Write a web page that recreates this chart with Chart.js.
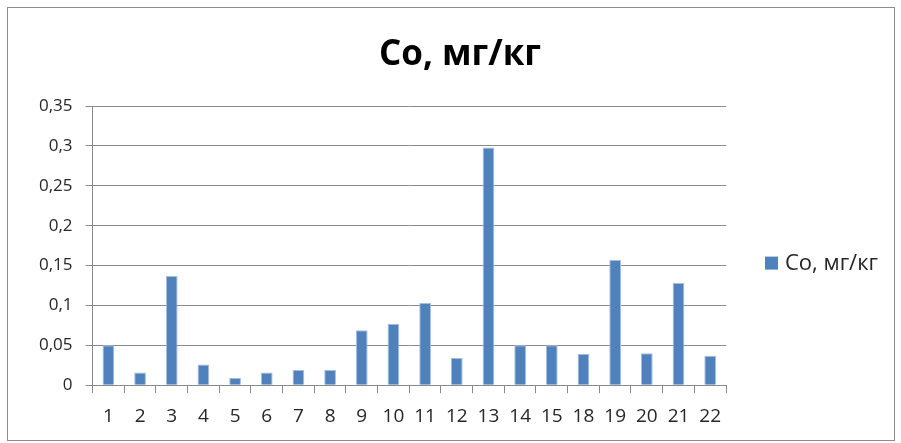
<!DOCTYPE html>
<html>
<head>
<meta charset="utf-8">
<script src="https://cdn.jsdelivr.net/npm/chart.js@4"></script>
<style>
    html, body { margin: 0; padding: 0; background: #fff; }
    #cadre {
        position: absolute; left: 7px; top: 7px;
        width: 886px; height: 432px;
        border: 1px solid #8c8c8c;
    }
</style>
</head>
<body>
<div id="cadre"><canvas id="graphique" width="886" height="432"></canvas></div>
<script>
const categories = ['1', '2', '3', '4', '5', '6', '7', '8', '9', '10',
                    '11', '12', '13', '14', '15', '18', '19', '20', '21', '22'];
const valeursCo  = [0.05, 0.016, 0.137, 0.026, 0.009, 0.016, 0.019, 0.019, 0.069, 0.077,
                    0.103, 0.034, 0.298, 0.05, 0.05, 0.039, 0.157, 0.040, 0.128, 0.037];
const etiquettesY = ['0', '0,05', '0,1', '0,15', '0,2', '0,25', '0,3', '0,35'];

const POLICE = "'Open Sans', 'DejaVu Sans', sans-serif";
const GRIS = '#8a8a8a';
const TEXTE = '#262626';
const BLEU = '#4f81bd';

// Légende à droite, centrée sur la zone du graphique (comme dans Excel)
const legendeDroite = {
    id: 'legendeDroite',
    afterDraw(chart) {
        const { ctx, chartArea } = chart;
        const ds = chart.data.datasets[0];
        const x = chartArea.right + 39;
        const y = (chartArea.top + chartArea.bottom) / 2 + 18;
        ctx.save();
        ctx.fillStyle = ds.backgroundColor;
        ctx.fillRect(x, y - 7, 13, 13);
        ctx.fillStyle = TEXTE;
        ctx.font = `22px ${POLICE}`;
        ctx.textBaseline = 'middle';
        ctx.fillText(ds.label, x + 20, y);
        ctx.restore();
    }
};

new Chart(document.getElementById('graphique'), {
    type: 'bar',
    data: {
        labels: categories,
        datasets: [{
            label: 'Co, мг/кг',
            data: valeursCo,
            backgroundColor: BLEU,
            borderColor: '#a3bddf',
            borderWidth: { top: 1, left: 1, right: 1, bottom: 0 },
            categoryPercentage: 1,
            barPercentage: 0.37,
        }]
    },
    plugins: [legendeDroite],
    options: {
        responsive: false,
        animation: false,
        layout: { padding: { left: 18, right: 0, top: 0, bottom: 0 } },
        plugins: {
            title: {
                display: true,
                text: 'Co, мг/кг',
                color: '#000',
                font: { family: POLICE, size: 35, weight: 'bold' },
                padding: { top: 26, bottom: 30 },
            },
            legend: { display: false },
            tooltip: { enabled: false },
        },
        scales: {
            x: {
                grid: { display: true, offset: true, drawOnChartArea: false, drawTicks: true, tickLength: 8, color: GRIS },
                border: { color: GRIS },
                ticks: { color: TEXTE, font: { family: POLICE, size: 19 }, maxRotation: 0, autoSkip: false, padding: 12 },
            },
            y: {
                min: 0, max: 0.35,
                ticks: {
                    stepSize: 0.05,
                    color: TEXTE,
                    font: { family: POLICE, size: 17 },
                    padding: 13,
                    callback: (v, i) => etiquettesY[i],
                },
                grid: { color: GRIS, tickLength: 7 },
                border: { color: GRIS },
            },
            // espace réservé à droite pour la légende
            espaceLegende: {
                type: 'linear',
                position: 'right',
                display: true,
                grid: { display: false },
                border: { display: false },
                ticks: { display: false },
                afterFit(s) { s.width = 168; },
            }
        }
    }
});
</script>
</body>
</html>
